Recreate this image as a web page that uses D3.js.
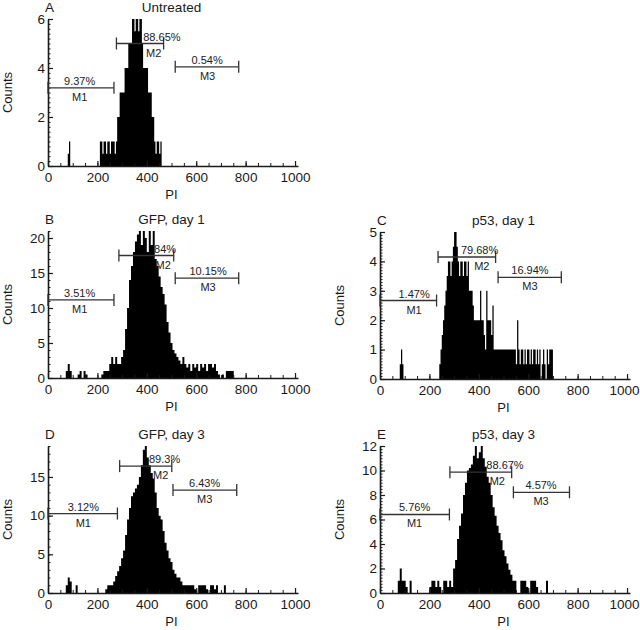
<!DOCTYPE html>
<html>
<head>
<meta charset="utf-8">
<script src="https://cdn.jsdelivr.net/npm/d3@7/dist/d3.min.js"></script>
<style>
  body { margin: 0; background: #fff; }
  svg { display: block; font-family: "Liberation Sans", Arial, sans-serif; }
</style>
</head>
<body>
<div id="chart"></div>
<script>
// Panel labels and axes
const panelLetters = ['A', 'B', 'C', 'D', 'E'];
const panelTitles = ['Untreated', 'GFP, day 1', 'p53, day 1', 'GFP, day 3', 'p53, day 3'];
const yMax = [6, 21, 5, 19, 12];
const yTicks = [[0, 2, 4, 6], [0, 5, 10, 15, 20], [0, 1, 2, 3, 4, 5], [0, 5, 10, 15], [0, 2, 4, 6, 8, 10, 12]];
const yMinorStep = [0.2, 1, 0.1, 1, 0.25];
const xTicks = [0, 200, 400, 600, 800, 1000];

// Histogram bins: first bin start (PI) and bin width, then counts per bin
const binStart = [80, 64, 80, 64, 64];
const binWidth = [5, 8, 5, 8, 8];

const countsA = [0.5, 1, 0,
  0, 0, 0, 0, 0, 0, 0, 0, 0, 0, 0, 0, 0, 0, 0, 0, 0, 0, 0, 0, 0, 0, 0,
  1, 1, 0.5, 1, 1, 0.5, 1, 1, 0.5, 1, 1, 1, 0.5, 1,
  2, 2, 3, 3, 3, 3, 4, 4, 4, 5, 5, 5,
  6, 6, 5.5, 6, 6, 5.5, 6, 6,
  5, 4, 4, 4, 4, 3, 3, 3, 2, 2,
  1, 0.5, 1, 1, 0.5, 1];

const countsB = [0, 1, 2, 1, 0, 0, 0, 0.5, 1, 0, 1, 0.5, 0,
  0, 0, 0, 0, 0, 0,
  0.5, 1, 1, 1, 2, 3, 2, 3, 2, 2, 3, 4, 7, 10, 14, 16, 18, 19.5, 20.5,
  21, 19, 21, 20, 18, 21, 19, 21, 17, 16, 14.5, 13, 12, 10.5, 8, 6.5, 5, 4, 3.5,
  3, 2.5, 2, 3, 2, 1.5, 2, 1, 2, 1.5, 2, 1, 2, 1.5, 2, 1, 2, 2, 1.5, 2, 1,
  0.5, 0, 0.5, 0, 1, 1, 1, 1];

const countsC = [0.5, 1, 0.5,
  0, 0, 0, 0, 0, 0, 0, 0, 0, 0, 0, 0, 0, 0, 0, 0, 0, 0, 0, 0, 0, 0, 0, 0, 0, 0, 0, 0, 0,
  0.5, 1, 1.5, 2, 2.5, 3, 3.5, 4, 4, 3.5, 4, 4.5, 5, 5, 4.5, 4, 3.5, 4, 4, 3.5,
  4, 4, 3.5, 4, 3, 3, 3, 2.5, 2, 2, 2, 2, 2, 3, 2, 2, 1.5, 1, 3, 2, 2, 2, 1.5, 2.5,
  1, 1, 1, 1, 1, 1, 1, 1, 1, 1, 1, 1, 1, 1, 1, 1, 1, 1,
  0.5, 2, 1, 0.5, 1, 1, 0.5, 1, 0.5, 1, 1, 0.5, 1, 0.5, 1, 1, 0.5, 1, 0.5, 1,
  0, 0.5, 1, 0.5, 0, 1, 0.5, 1, 1, 1];

const countsD = [0, 1, 2, 1.5, 0, 0, 1, 0,
  0, 0, 0, 0, 0, 0, 0, 0, 0, 0, 0, 0, 0,
  0.5, 1, 1, 1, 1.5, 2.2, 2.8, 3.5, 4.5, 5.5, 7.5, 9.5, 11, 12.5, 13, 13.5, 14, 15,
  16.5, 18.5, 19, 17.5, 16.5, 15.5, 14.8, 13, 11, 10, 9.5, 8, 6.5, 5.5, 4.5, 4, 3,
  2.5, 2, 2, 1.5, 1, 1, 1, 1, 1, 1, 0.5, 0, 1, 1, 1, 1, 0.5, 0, 1, 1, 0.5, 1,
  0, 0, 0, 1];

const countsE = [0, 1, 2, 1, 1, 0.5, 0, 1,
  0, 0, 0, 0, 0, 0, 0, 0, 0,
  0.5, 1, 1, 0.5, 1, 0.5, 0, 1, 1, 0.5, 1, 0.5,
  2, 2.7, 4.4, 5.5, 6.5, 8, 9, 10, 10.2, 10.5, 11.2, 12, 11, 11.5, 12, 11, 10.3,
  9.5, 9, 8, 7, 6.3, 5.5, 4.9, 4.3, 3.5, 3, 2.4, 1.9, 1.5, 1, 1,
  0, 0, 1, 1, 1, 0.5, 0, 1, 1, 1, 0.5, 0, 0, 0, 0, 1];

// Markers: [name, from, to, level (counts), percent, percent label at, name label at]
const gatesA = [['M1', 0, 267, 3.19, '9.37%', 128, 128], ['M2', 277, 468, 5.0, '88.65%', 461, 428], ['M3', 515, 772, 4.05, '0.54%', 644, 646]];
const gatesB = [['M1', 0, 267, 11.15, '3.51%', 128, 128], ['M2', 287, 509, 17.5, '84%', 474, 466], ['M3', 515, 772, 14.26, '10.15%', 648, 648]];
const gatesC = [['M1', 0, 229, 2.67, '1.47%', 138, 138], ['M2', 235, 468, 4.15, '79.68%', 403, 412], ['M3', 478, 734, 3.46, '16.94%', 607, 607]];
const gatesD = [['M1', 0, 281, 10.27, '3.12%', 143, 143], ['M2', 290, 501, 16.4, '89.3%', 472, 456], ['M3', 506, 764, 13.3, '6.43%', 634, 634]];
const gatesE = [['M1', 0, 281, 6.41, '5.76%', 140, 140], ['M2', 283, 533, 9.86, '88.67%', 506, 475], ['M3', 540, 767, 8.22, '4.57%', 652, 652]];

const allCounts = [countsA, countsB, countsC, countsD, countsE];
const allGates = [gatesA, gatesB, gatesC, gatesD, gatesE];

// layout
const W = 640, H = 630;
const plotW = 250, plotH = 147;
const origins = [[48, 19], [48, 231], [380, 232], [48, 446], [380, 446]];
const ink = '#1a1a1a';
const font = '"Liberation Sans", Arial, sans-serif';

const svg = d3.select('#chart').append('svg')
  .attr('width', W).attr('height', H)
  .attr('viewBox', [0, 0, W, H]);

svg.append('rect').attr('width', W).attr('height', H).attr('fill', '#fff');

panelLetters.forEach((letter, i) => {
  const [ox, oy] = origins[i];
  const g = svg.append('g').attr('transform', `translate(${ox},${oy})`);

  const x = d3.scaleLinear().domain([0, 1012]).range([0, plotW]);
  const y = d3.scaleLinear().domain([0, yMax[i]]).range([plotH, 0]);

  // histogram as a step area
  const pts = allCounts[i].map((c, k) => [binStart[i] + k * binWidth[i], c]);
  pts.push([binStart[i] + allCounts[i].length * binWidth[i], 0]);
  const area = d3.area()
    .curve(d3.curveStepAfter)
    .x(d => x(d[0]))
    .y0(y(0))
    .y1(d => y(d[1]));
  g.append('path').datum(pts).attr('d', area).attr('fill', '#000');

  // minor ticks (inward)
  g.append('g')
    .attr('transform', `translate(0,${plotH})`)
    .call(d3.axisBottom(x).tickValues(d3.range(0, 1001, 50)).tickSize(-3).tickFormat(''))
    .call(s => s.select('.domain').remove())
    .call(s => s.selectAll('line').attr('stroke', ink));
  g.append('g')
    .call(d3.axisLeft(y).tickValues(d3.range(0, yMax[i] + 1e-6, yMinorStep[i])).tickSize(-2.5).tickFormat(''))
    .call(s => s.select('.domain').remove())
    .call(s => s.selectAll('line').attr('stroke', ink));

  // main axes
  const xAxis = g.append('g')
    .attr('transform', `translate(0,${plotH})`)
    .call(d3.axisBottom(x).tickValues(xTicks).tickFormat(d3.format('d'))
      .tickSizeInner(-5).tickSizeOuter(0).tickPadding(6));
  const yAxis = g.append('g')
    .call(d3.axisLeft(y).tickValues(yTicks[i]).tickFormat(d3.format('d'))
      .tickSizeInner(-5).tickSizeOuter(0).tickPadding(3));
  [xAxis, yAxis].forEach(a => {
    a.select('.domain').attr('stroke', ink).attr('stroke-width', 1.6);
    a.selectAll('line').attr('stroke', ink).attr('stroke-width', 1.2);
    a.selectAll('text').attr('fill', ink).attr('font-size', 13.5).attr('font-family', font);
  });
  // keep the last x label inside the page on the right-hand panels
  if (ox + plotW > W - 20) {
    xAxis.selectAll('.tick text').filter(d => d === 1000)
      .attr('text-anchor', 'end').attr('x', 12);
  }

  // markers
  allGates[i].forEach(([name, lo, hi, level, pct, pctAt, nameAt]) => {
    const ly = y(level);
    const m = g.append('g').attr('stroke', '#333').attr('stroke-width', 1.3);
    m.append('line').attr('x1', x(lo)).attr('x2', x(hi)).attr('y1', ly).attr('y2', ly);
    [lo, hi].forEach(v => {
      m.append('line').attr('x1', x(v)).attr('x2', x(v)).attr('y1', ly - 6).attr('y2', ly + 6);
    });
    g.append('text').attr('x', x(pctAt)).attr('y', ly - 3)
      .attr('text-anchor', 'middle').attr('font-size', 11).attr('fill', '#222').text(pct);
    g.append('text').attr('x', x(nameAt)).attr('y', ly + 13)
      .attr('text-anchor', 'middle').attr('font-size', 11).attr('fill', '#222').text(name);
  });

  // titles
  g.append('text').attr('x', -3).attr('y', -7)
    .attr('font-size', 13.5).attr('fill', ink).text(letter);
  g.append('text').attr('x', x(500)).attr('y', -7)
    .attr('text-anchor', 'middle').attr('font-size', 13.5).attr('fill', ink).text(panelTitles[i]);

  // axis labels
  g.append('text')
    .attr('transform', `translate(-41,${plotH / 2}) rotate(-90)`)
    .attr('text-anchor', 'middle').attr('dy', '0.35em')
    .attr('font-size', 13).attr('fill', ink).text('Counts');
  g.append('text').attr('x', x(500)).attr('y', plotH + 33)
    .attr('text-anchor', 'middle').attr('font-size', 13).attr('fill', ink).text('PI');
});
</script>
</body>
</html>
